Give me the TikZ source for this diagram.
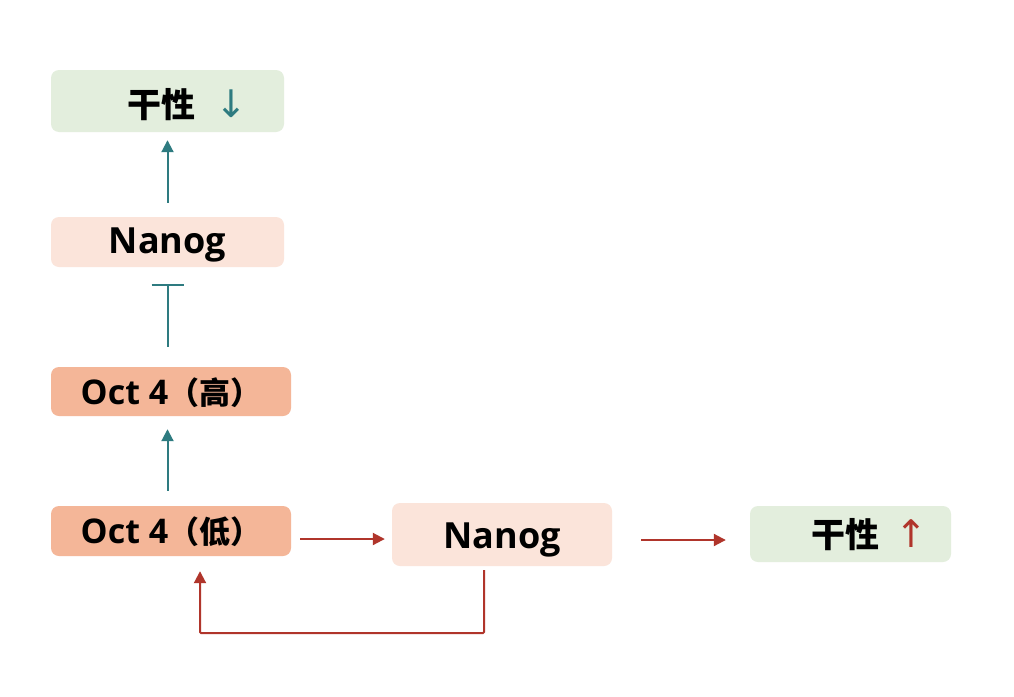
\documentclass[tikz,border=0pt]{standalone}
\usepackage{fontspec}
\setmainfont{Open Sans}
\newfontfamily\cjk{Noto Sans CJK SC}
\newfontfamily\arrowfont{DejaVu Sans}
\usetikzlibrary{arrows.meta}
\definecolor{tealc}{HTML}{2E7B80}
\definecolor{redc}{HTML}{B0352B}
\definecolor{greenbox}{HTML}{E3EEDD}
\definecolor{palebox}{HTML}{FBE4DA}
\definecolor{salmonbox}{HTML}{F4B698}
\tikzset{
  box/.style={rounded corners=8pt, inner sep=0pt, text depth=0pt},
  bigtext/.style={font=\bfseries\fontsize{36}{36}\selectfont},
  octtext/.style={font=\bfseries\fontsize{34}{34}\selectfont},
  tealarrow/.style={draw=tealc, line width=2pt, -{Triangle[width=12pt,length=12pt]}},
  tealbar/.style={draw=tealc, line width=2pt, -{Bar[width=32pt,line width=2pt]}},
  redarrow/.style={draw=redc, line width=2pt, -{Triangle[width=12pt,length=12pt]}},
}
\newcommand{\glyphdown}{{\arrowfont\mdseries\fontsize{38}{38}\selectfont ↓}}
\newcommand{\glyphup}{{\arrowfont\mdseries\fontsize{38}{38}\selectfont ↑}}
\newcommand{\paren}[1]{{\cjk\bfseries\fontsize{31}{31}\selectfont （#1）}}
\begin{document}
\begin{tikzpicture}[x=1pt,y=-1pt]
\useasboundingbox[fill=white] (0,0) rectangle (1014,696);
% boxes
\node[box, fill=greenbox, minimum width=233pt, minimum height=62pt, text height=32pt, bigtext] (g1) at (167.5,101) {\hspace{40pt}{\cjk\bfseries\fontsize{34}{34}\selectfont 干性}\hspace{20pt}\textcolor{tealc}{\glyphdown}};
\node[box, fill=palebox, minimum width=233pt, minimum height=50pt, text height=22pt, bigtext] (n1) at (167.5,242) {Nanog};
\node[box, fill=salmonbox, minimum width=240pt, minimum height=49pt, text height=25pt, octtext] (o1) at (171,391.5) {Oct 4\paren{高}\hspace{17pt}};
\node[box, fill=salmonbox, minimum width=240pt, minimum height=50pt, text height=25pt, octtext] (o2) at (171,531) {Oct 4\paren{低}\hspace{17pt}};
\node[box, fill=palebox, minimum width=220pt, minimum height=63pt, text height=27pt, bigtext] (n2) at (502,534.5) {Nanog};
\node[box, fill=greenbox, minimum width=201pt, minimum height=56pt, text height=27pt, bigtext] (g2) at (850.5,534) {\hspace{38pt}{\cjk\bfseries\fontsize{34}{34}\selectfont 干性}\hspace{16pt}\textcolor{redc}{\glyphup}};
% helper coordinates
\coordinate (ay1) at (0,539);
\coordinate (ay2) at (0,540);
\coordinate (fbx) at (484,0);
\coordinate (fbl) at (200,0);
\coordinate (fby) at (0,633);
% teal connectors
\draw[tealarrow, shorten <=14pt, shorten >=8pt] (n1.north) -- (g1.south);
\draw[tealbar, shorten <=20pt, shorten >=17pt] (n1.south |- o1.north) -- (n1.south);
\draw[tealarrow, shorten <=15pt, shorten >=13pt] (n1.south |- o2.north) -- (n1.south |- o1.south);
% red connectors
\draw[redarrow, shorten <=9pt, shorten >=7pt] (o2.east |- ay1) -- (n2.west |- ay1);
\draw[redarrow, shorten <=29pt, shorten >=24pt] (n2.east |- ay2) -- (g2.west |- ay2);
\draw[redarrow, shorten <=4pt, shorten >=15pt, rounded corners=1pt] (fbx |- n2.south) -- (fbx |- fby) -- (fbl |- fby) -- (fbl |- o2.south);
\end{tikzpicture}
\end{document}
